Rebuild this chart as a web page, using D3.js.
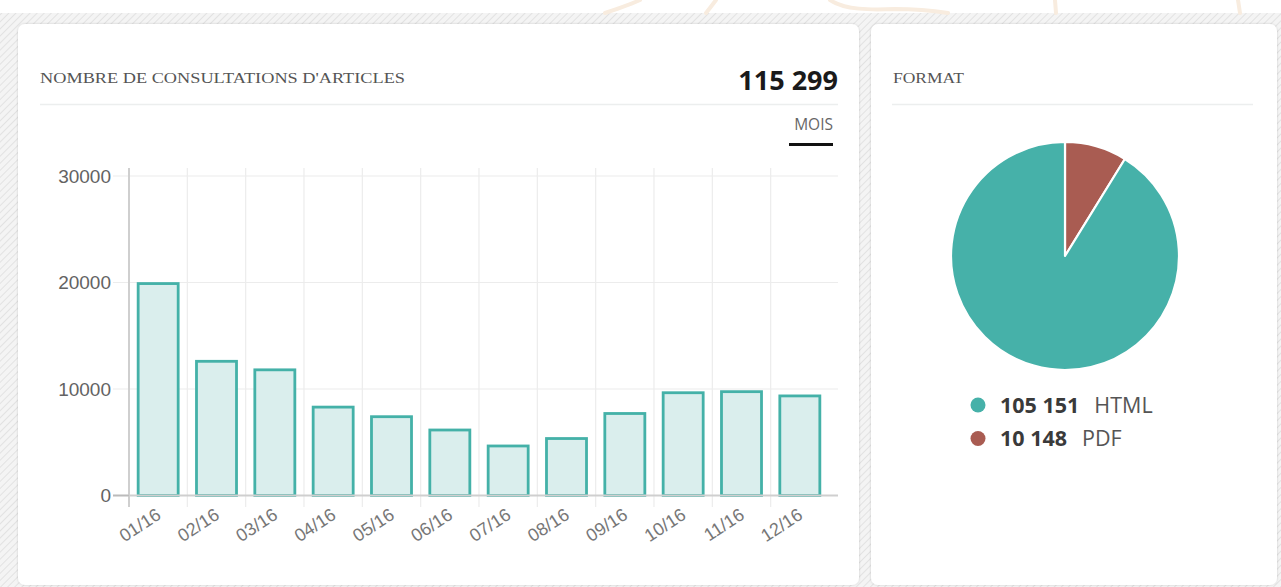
<!DOCTYPE html>
<html>
<head>
<meta charset="utf-8">
<script src="https://cdn.jsdelivr.net/npm/d3@7/dist/d3.min.js"></script>
<style>
  html, body { margin: 0; padding: 0; background: #fff; overflow: hidden; }
  svg { display: block; }
</style>
</head>
<body>
<svg id="chart" width="1281" height="587"></svg>
<script>
// ---- data ----
const months = ["01/16","02/16","03/16","04/16","05/16","06/16","07/16","08/16","09/16","10/16","11/16","12/16"];
const views = [19900, 12600, 11800, 8300, 7400, 6150, 4650, 5350, 7700, 9650, 9750, 9350];
const yTicks = [0, 10000, 20000, 30000];
const totalLabel = "115 299";
const formats = ["PDF", "HTML"];
const formatValues = [10148, 105151];
const formatLabels = ["10 148", "105 151"];
const legendOrder = ["HTML", "PDF"];

const svg = d3.select("#chart");
const W = 1281, H = 587;

// ---- background: hatch + watermark ----
const defs = svg.append("defs");
const pat = defs.append("pattern").attr("id", "hatch").attr("patternUnits", "userSpaceOnUse")
  .attr("width", 5).attr("height", 5).attr("patternTransform", "rotate(45)");
pat.append("rect").attr("width", 5).attr("height", 5).attr("fill", "#f4f4f4");
pat.append("line").attr("x1", 0).attr("y1", 0).attr("x2", 0).attr("y2", 5)
  .attr("stroke", "#e2e2e2").attr("stroke-width", 2);
const shadow = defs.append("filter").attr("id", "sh").attr("x", "-5%").attr("y", "-5%").attr("width", "110%").attr("height", "110%");
shadow.append("feDropShadow").attr("dx", 0).attr("dy", 0).attr("stdDeviation", 1.2).attr("flood-color", "#000").attr("flood-opacity", 0.18);

svg.append("rect").attr("x", 0).attr("y", 0).attr("width", W).attr("height", H).attr("fill", "#fff");
svg.append("rect").attr("x", 0).attr("y", 13).attr("width", W).attr("height", H - 13).attr("fill", "url(#hatch)");

// faint watermark strokes above the cards
const wm = svg.append("g").attr("fill", "none").attr("stroke", "#f8ecdf").attr("stroke-width", 4).attr("stroke-linecap", "round");
wm.append("path").attr("d", "M605,13 C620,8 632,4 640,0");
wm.append("path").attr("d", "M706,13 C710,8 713,4 716,0");
wm.append("path").attr("d", "M830,0 C845,10 870,10 895,9 C915,9 935,11 948,13");
wm.append("path").attr("d", "M1055,0 L1056,13");
wm.append("path").attr("d", "M1238,0 L1240,13");

// ---- cards ----
const cards = svg.append("g");
cards.append("rect").attr("x", 18).attr("y", 24).attr("width", 841).attr("height", 561)
  .attr("rx", 7).attr("fill", "#fff").attr("filter", "url(#sh)");
cards.append("rect").attr("x", 871).attr("y", 24).attr("width", 406).attr("height", 561)
  .attr("rx", 7).attr("fill", "#fff").attr("filter", "url(#sh)");

// ---- left card header ----
svg.append("text").attr("x", 40).attr("y", 83)
  .attr("font-family", "'Liberation Serif', 'DejaVu Serif', serif").attr("font-size", 14)
  .attr("fill", "#555").attr("textLength", 365).attr("lengthAdjust", "spacingAndGlyphs")
  .text("NOMBRE DE CONSULTATIONS D'ARTICLES");
svg.append("text").attr("x", 838).attr("y", 90).attr("text-anchor", "end")
  .attr("font-family", "'Open Sans', sans-serif").attr("font-weight", 700).attr("font-size", 27)
  .attr("fill", "#1a1a1a").text(totalLabel);
svg.append("line").attr("x1", 40).attr("x2", 838).attr("y1", 104.5).attr("y2", 104.5)
  .attr("stroke", "#eceeee").attr("stroke-width", 1.5);
svg.append("text").attr("x", 833).attr("y", 130).attr("text-anchor", "end")
  .attr("font-family", "'Open Sans', sans-serif").attr("font-size", 15.5)
  .attr("fill", "#666").text("MOIS");
svg.append("rect").attr("x", 789).attr("y", 143).attr("width", 44).attr("height", 3).attr("fill", "#111");

// ---- bar chart ----
const x = d3.scaleBand().domain(months).range([129, 829]).paddingInner(0.314).paddingOuter(0.157);
const y = d3.scaleLinear().domain([0, 30000]).range([495.5, 176]);
const step = x.step();
const g = svg.append("g");

// horizontal grid
g.selectAll(".hg").data(yTicks.filter(d => d > 0)).join("line")
  .attr("x1", 113).attr("x2", 838).attr("y1", d => y(d)).attr("y2", d => y(d))
  .attr("stroke", "#ececec").attr("stroke-width", 1.2);
// vertical grid at band boundaries
g.selectAll(".vg").data(months.slice(1)).join("line")
  .attr("x1", d => x(d) - step * x.paddingInner() / 2).attr("x2", d => x(d) - step * x.paddingInner() / 2)
  .attr("y1", 168).attr("y2", 507)
  .attr("stroke", "#ececec").attr("stroke-width", 1.2);

// bars
g.selectAll(".bar").data(months).join("rect")
  .attr("x", d => x(d)).attr("width", x.bandwidth())
  .attr("y", (d, i) => y(views[i])).attr("height", (d, i) => y(0) - y(views[i]))
  .attr("fill", "#daeeed").attr("stroke", "#44b1a8").attr("stroke-width", 2.8);

// axes lines
g.append("line").attr("x1", 129).attr("x2", 129).attr("y1", 168).attr("y2", 507)
  .attr("stroke", "#cfcfcf").attr("stroke-width", 2);
g.append("line").attr("x1", 113).attr("x2", 838).attr("y1", y(0)).attr("y2", y(0))
  .attr("stroke", "#cfcfcf").attr("stroke-width", 2);
g.append("line").attr("x1", 113).attr("x2", 129).attr("y1", y(0)).attr("y2", y(0))
  .attr("stroke", "#bbb").attr("stroke-width", 1.5);

// y tick labels
g.selectAll(".yl").data(yTicks).join("text")
  .attr("x", 111).attr("y", d => y(d)).attr("dy", "0.36em").attr("text-anchor", "end")
  .attr("font-family", "'Liberation Sans', Arial, sans-serif").attr("font-size", 19)
  .attr("fill", "#636363").text(d => d);

// x tick labels
g.selectAll(".xl").data(months).join("text")
  .attr("transform", d => `translate(${x(d) + x.bandwidth() / 2 - 3},${507}) rotate(-33)`)
  .attr("text-anchor", "end").attr("dy", "0.72em")
  .attr("font-family", "'Liberation Sans', Arial, sans-serif").attr("font-size", 18)
  .attr("fill", "#777").text(d => d);

// ---- right card: pie ----
svg.append("text").attr("x", 893).attr("y", 83)
  .attr("font-family", "'Liberation Serif', 'DejaVu Serif', serif").attr("font-size", 14)
  .attr("fill", "#555").attr("textLength", 71).attr("lengthAdjust", "spacingAndGlyphs")
  .text("FORMAT");
svg.append("line").attr("x1", 892).attr("x2", 1253).attr("y1", 104.5).attr("y2", 104.5)
  .attr("stroke", "#eceeee").attr("stroke-width", 1.5);

const color = d3.scaleOrdinal().domain(["HTML", "PDF"]).range(["#46b1a9", "#a95c52"]);
const pieData = formats.map((f, i) => ({ name: f, value: formatValues[i], label: formatLabels[i] }));
const pie = d3.pie().sort(null).value(d => d.value);
const arc = d3.arc().innerRadius(0).outerRadius(114);
const pg = svg.append("g").attr("transform", "translate(1065,256)");
pg.selectAll("path").data(pie(pieData)).join("path")
  .attr("d", arc).attr("fill", d => color(d.data.name))
  .attr("stroke", "#fff").attr("stroke-width", 2.2).attr("stroke-linejoin", "round");

// legend
const lg = svg.append("g");
const rows = legendOrder.map(n => pieData.find(d => d.name === n));
const row = lg.selectAll("g").data(rows).join("g")
  .attr("transform", (d, i) => `translate(978,${405 + i * 33.5})`);
row.append("circle").attr("r", 7.5).attr("fill", d => color(d.name));
row.append("text").attr("x", 22).attr("dy", "0.36em")
  .attr("font-family", "'Open Sans', sans-serif").attr("font-size", 21.5)
  .each(function (d) {
    const t = d3.select(this);
    t.append("tspan").attr("font-weight", 700).attr("fill", "#3a3a3a").text(d.label);
    t.append("tspan").attr("dx", 15).attr("fill", "#555").text(d.name);
  });
</script>
</body>
</html>
